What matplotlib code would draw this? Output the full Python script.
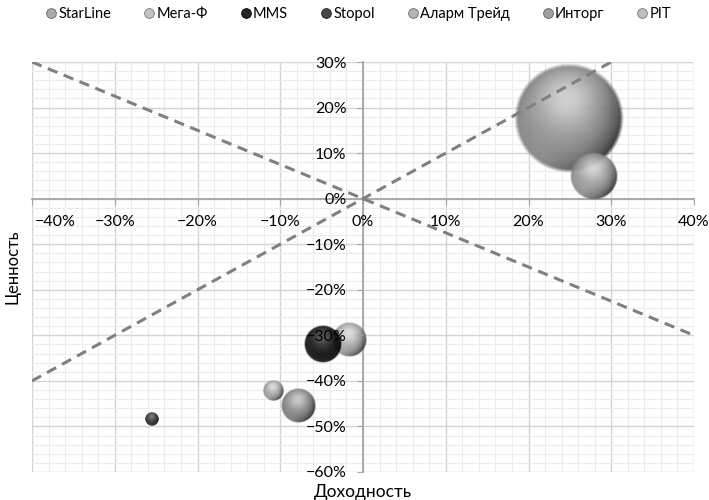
import numpy as np
import matplotlib.pyplot as plt
from matplotlib.lines import Line2D
from matplotlib.ticker import MultipleLocator, FuncFormatter

plt.rcParams['font.family'] = ['Lato', 'DejaVu Sans']

# Компании: доходность, ценность (%), размер пузырька и тон заливки
names = ['StarLine', 'Мега-Ф', 'MMS', 'Stopol', 'Аларм Трейд', 'Инторг', 'PIT']
income = [24.9, -1.7, -4.8, -25.5, 27.9, -7.9, -10.8]
value = [17.6, -31.0, -31.8, -48.4, 4.9, -45.6, -42.1]
size = [100, 9.6, 11.9, 1.6, 19.0, 9.6, 3.6]
tone = [0.52, 0.62, 0.0, 0.13, 0.56, 0.48, 0.60]

# Линии раздела
line1_x = [-40, 40]
line1_y = [30, -30]
line2_x = [-40, 30]
line2_y = [-40, 30]

xmin, xmax = -40, 40
ymin, ymax = -60, 30
rmax_px = 55


def sphere(base, n=300):
    # объёмный шарик: блик сверху, тёмный серп справа-снизу, мягкий край
    u, v = np.meshgrid(np.linspace(-1, 1, n), np.linspace(-1, 1, n))
    d = np.sqrt(u**2 + v**2)
    dc = np.clip(d, 0, 1)
    hl = np.exp(-((u + 0.05)**2 + (v - 0.35)**2) / 0.3)
    k = 0.6 * (1 - base) * (0.45 + base)
    s = base + k * hl
    side = np.clip(0.8 * u - 0.6 * v, 0, 1)
    s = s * (1 - 0.8 * side**1.2 * dc**2)
    s = s * (1 - 0.2 * dc**6)
    rim = np.clip(-0.6 * u - 0.8 * v, 0, 1)
    s = s + 0.12 * (1 - s) * rim * dc**4
    s = np.clip(s, 0, 1)
    a = np.clip((1 - d) / 0.07, 0, 1) * 0.9
    return np.dstack([s, s, s, a])


def pct(v, p):
    if v == xmin:
        return ''
    return f'{v:.0f}%'.replace('-', '\u2212')


fig = plt.figure(figsize=(7.09, 5.0), dpi=100)
ax = fig.add_axes([32 / 709, 1 - 472 / 500, 662 / 709, 410 / 500])

px_x = 662 / (xmax - xmin)
px_y = 410 / (ymax - ymin)

# сетка под пузырьками
for g in np.arange(xmin, xmax + 1, 2):
    major = g % 10 == 0
    ax.axvline(g, color='#d4d4d4' if major else '#ececec', lw=1.0 if major else 0.8, zorder=0.5)
for g in np.arange(ymin, ymax + 1, 2):
    major = g % 10 == 0
    ax.axhline(g, color='#d4d4d4' if major else '#ececec', lw=1.0 if major else 0.8, zorder=0.5)

for x, y, s, t in zip(income, value, size, tone):
    r = rmax_px * np.sqrt(s / max(size))
    rx, ry = r / px_x, r / px_y
    ax.imshow(sphere(t), extent=[x - rx, x + rx, y - ry, y + ry],
              origin='lower', aspect='auto', zorder=2, interpolation='antialiased')

ax.plot(line1_x, line1_y, color='#808080', lw=2.2, dashes=(3.4, 2.2), zorder=3)
ax.plot(line2_x, line2_y, color='#808080', lw=2.2, dashes=(3.4, 2.2), zorder=3)

ax.set_xlim(xmin, xmax)
ax.set_ylim(ymin, ymax)
ax.set_axisbelow(False)

ax.xaxis.set_major_locator(MultipleLocator(10))
ax.yaxis.set_major_locator(MultipleLocator(10))
ax.xaxis.set_major_formatter(FuncFormatter(pct))
ax.yaxis.set_major_formatter(FuncFormatter(lambda v, p: f'{v:.0f}%'.replace('-', '\u2212')))

for side in ['top', 'right']:
    ax.spines[side].set_visible(False)
for side in ['left', 'bottom']:
    ax.spines[side].set_position(('data', 0))
    ax.spines[side].set_color('#a6a6a6')
    ax.spines[side].set_linewidth(1.3)
    ax.spines[side].set_zorder(1)

ax.tick_params(which='major', direction='out', length=4, color='#a6a6a6',
               labelsize=11.5, pad=8)

# крайняя левая подпись сдвинута внутрь области
ax.annotate('\u221240%', xy=(xmin, 0), xytext=(2, -12), textcoords='offset points',
            ha='left', va='top', fontsize=11.5, annotation_clip=False)

fig.text(0.017, 0.466, 'Ценность', rotation=90, ha='center', va='center', fontsize=12)
fig.text(0.512, 0.016, 'Доходность', ha='center', va='center', fontsize=12.5)

handles = [Line2D([], [], ls='', marker='o', markersize=7, markeredgewidth=0.6,
                  markerfacecolor=str(min(t + 0.15, 1)), markeredgecolor=str(t * 0.75))
           for t in tone]
fig.legend(handles, names, loc='center', bbox_to_anchor=(0.505, 0.972), ncol=7,
           frameon=False, fontsize=10.5, handletextpad=0.1, columnspacing=2.2,
           handlelength=0.8)

fig.savefig('out.png', dpi=100)
